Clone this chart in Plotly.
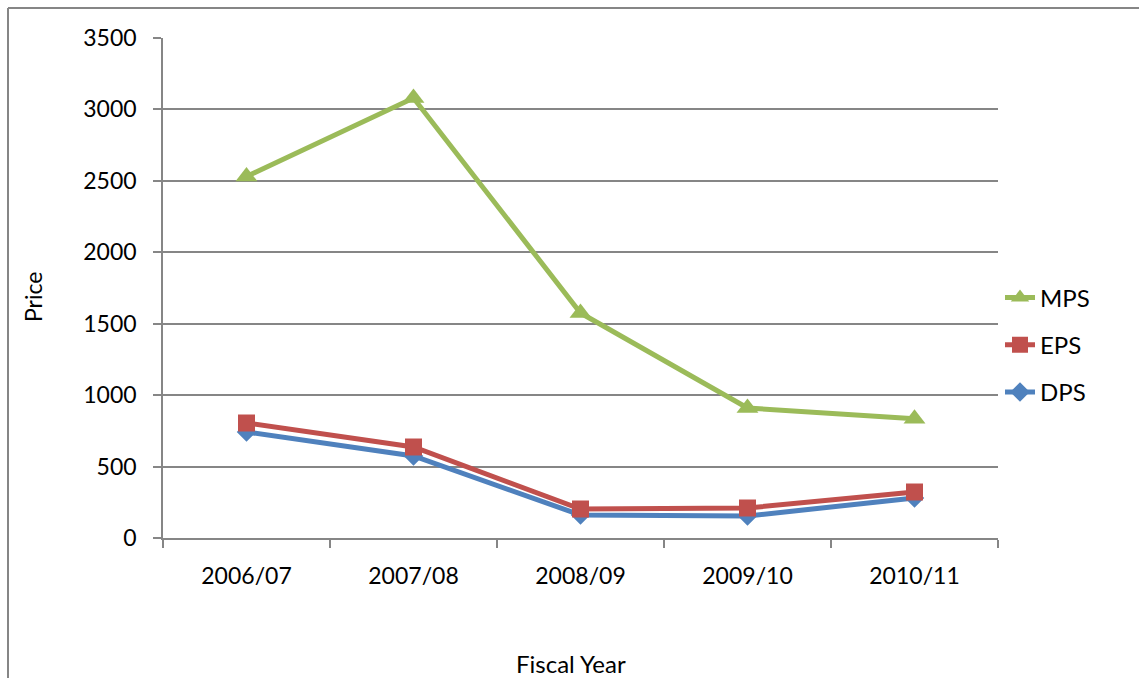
import plotly.graph_objects as go

years = ["2006/07", "2007/08", "2008/09", "2009/10", "2010/11"]
mps = [2530, 3080, 1575, 910, 835]
eps = [805, 637, 203, 210, 322]
dps = [742, 574, 161, 154, 280]

FONT = "Lato"
W, H = 1139, 678
L, R, T, B = 163, 141, 38, 140
PW, PH = W - L - R, H - T - B

def px_x(x):
    return (x - L) / PW

def px_y(y):
    return (H - B - y) / PH

fig = go.Figure()
fig.add_trace(go.Scatter(x=years, y=dps, name="DPS", mode="lines+markers", legendrank=3,
                         legendgroup="g3",
                         line=dict(color="#4F81BD", width=5),
                         marker=dict(symbol="diamond", size=15, color="#4F81BD")))
fig.add_trace(go.Scatter(x=years, y=eps, name="EPS", mode="lines+markers", legendrank=2,
                         legendgroup="g2",
                         line=dict(color="#C0504D", width=5),
                         marker=dict(symbol="square", size=17, color="#C0504D")))
fig.add_trace(go.Scatter(x=years, y=mps, name="MPS", mode="lines+markers", legendrank=1,
                         legendgroup="g1",
                         line=dict(color="#9BBB59", width=5),
                         marker=dict(symbol="triangle-up", size=19, color="#9BBB59")))

fig.update_layout(
    width=W, height=H,
    margin=dict(l=L, r=R, t=T, b=B),
    paper_bgcolor="white", plot_bgcolor="white",
    font=dict(family=FONT, size=23, color="black"),
    showlegend=True,
    legend=dict(x=px_x(1000), xanchor="left", y=px_y(345), yanchor="middle",
                traceorder="grouped", tracegroupgap=13,
                font=dict(family=FONT, size=24), bgcolor="rgba(0,0,0,0)",
                itemwidth=30),
    xaxis=dict(type="category", range=[-0.5, 4.5], showgrid=False,
               showline=True, linecolor="#868686", linewidth=1.5,
               ticks="outside", tickson="boundaries", ticklen=8, tickcolor="#868686",
               tickwidth=1.5, ticklabelstandoff=17,
               tickfont=dict(family=FONT, size=23)),
    yaxis=dict(range=[0, 3500], dtick=500, tick0=0, showgrid=True,
               gridcolor="#868686", gridwidth=1.5, zeroline=False,
               showline=True, linecolor="#868686", linewidth=1.5,
               ticks="outside", ticklen=8, tickcolor="#868686", tickwidth=1.5,
               ticklabelstandoff=12,
               tickfont=dict(family=FONT, size=23)),
    annotations=[
        dict(text="Price", xref="paper", yref="paper", x=px_x(33), y=px_y(297),
             textangle=-90, showarrow=False, font=dict(family=FONT, size=23),
             xanchor="center", yanchor="middle"),
        dict(text="Fiscal Year", xref="paper", yref="paper", x=px_x(571), y=px_y(663),
             showarrow=False, font=dict(family=FONT, size=24),
             xanchor="center", yanchor="middle"),
    ],
    shapes=[
        dict(type="line", xref="paper", yref="paper", x0=px_x(8), x1=px_x(1200),
             y0=px_y(8), y1=px_y(8), line=dict(color="#868686", width=2)),
        dict(type="line", xref="paper", yref="paper", x0=px_x(8), x1=px_x(8),
             y0=px_y(8), y1=px_y(720), line=dict(color="#868686", width=2)),
    ],
)

fig.write_html("out.html")
